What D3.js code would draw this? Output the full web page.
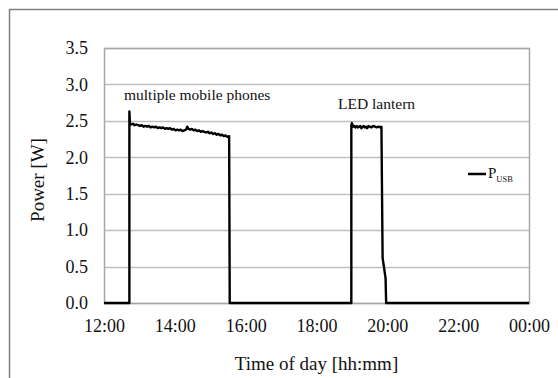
<!DOCTYPE html>
<html>
<head>
<meta charset="utf-8">
<script src="https://cdn.jsdelivr.net/npm/d3@7"></script>
<style>
  body { margin: 0; background: #fff; }
  svg text { font-family: "Liberation Serif", "DejaVu Serif", serif; fill: #111; }
</style>
</head>
<body>
<div id="chart"></div>
<script>
// Sizing
const svgWidth = 558,
  svgHeight = 378;
const plot = { left: 104, top: 48, right: 529, bottom: 303 };
const serif = "Liberation Serif, DejaVu Serif, serif";

// Content
const xTickLabels = ["12:00", "14:00", "16:00", "18:00", "20:00", "22:00", "00:00"];
const yTicks = [0, 0.5, 1.0, 1.5, 2.0, 2.5, 3.0, 3.5];
const xAxisTitle = "Time of day [hh:mm]";
const yAxisTitle = "Power [W]";
const seriesName = ["P", "USB"];

// measured P_USB, time of day and power [W]
const times = [
  "12:00", "12:43", "12:43", "12:44", "12:46", "12:49", "12:52", "12:55", "12:58",
  "13:01", "13:04", "13:07", "13:10", "13:13", "13:16", "13:19", "13:22", "13:25",
  "13:28", "13:31", "13:34", "13:37", "13:40", "13:43", "13:46", "13:49", "13:52",
  "13:55", "13:58", "14:01", "14:04", "14:07", "14:10", "14:13", "14:16", "14:19",
  "14:21", "14:23", "14:26", "14:29", "14:32", "14:35", "14:38", "14:41", "14:44",
  "14:47", "14:50", "14:53", "14:56", "14:59", "15:02", "15:05", "15:08", "15:11",
  "15:14", "15:17", "15:20", "15:23", "15:26", "15:29", "15:32", "15:33",
  "18:59", "18:59", "19:00", "19:02", "19:04", "19:06", "19:08", "19:10", "19:12",
  "19:14", "19:16", "19:18", "19:20", "19:22", "19:24", "19:26", "19:28", "19:30",
  "19:33", "19:36", "19:39", "19:42", "19:45", "19:48", "19:50", "19:52", "19:57",
  "19:58", "00:00"
];
const power = [
  0, 0, 2.63, 2.46, 2.45, 2.46, 2.44, 2.45, 2.44,
  2.43, 2.44, 2.42, 2.43, 2.42, 2.43, 2.41, 2.42, 2.41,
  2.42, 2.40, 2.41, 2.40, 2.41, 2.39, 2.40, 2.39, 2.40,
  2.38, 2.39, 2.37, 2.38, 2.37, 2.38, 2.36, 2.37, 2.38,
  2.42, 2.39, 2.38, 2.39, 2.37, 2.38, 2.36, 2.37, 2.35,
  2.36, 2.35, 2.34, 2.35, 2.33, 2.34, 2.32, 2.33, 2.31,
  2.32, 2.30, 2.31, 2.29, 2.30, 2.28, 2.29, 0,
  0, 2.44, 2.47, 2.42, 2.43, 2.41, 2.43, 2.41, 2.42,
  2.43, 2.40, 2.42, 2.43, 2.41, 2.42, 2.40, 2.43, 2.42,
  2.41, 2.43, 2.42, 2.41, 2.42, 2.41, 2.42, 0.62, 0.34,
  0, 0
];

// hours after noon, midnight counts as 24
const toHours = (s) => {
  const [h, m] = s.split(":").map(Number);
  return (h < 12 ? h + 24 : h) + m / 60;
};
const data = times.map((t, i) => ({ t: toHours(t), p: power[i] }));

/** Create SVG */
const svg = d3.select("#chart")
  .append("svg")
  .attr("width", svgWidth)
  .attr("height", svgHeight)
  .attr("font-family", serif);

// outer frame
svg.append("rect")
  .attr("x", 9.5).attr("y", 9.5)
  .attr("width", 600).attr("height", 400)
  .attr("fill", "none")
  .attr("stroke", "#7f7f7f")
  .attr("stroke-width", 1.5);

/** Scales */
const x = d3.scaleLinear()
  .domain([12, 24])
  .range([plot.left, plot.right]);
const y = d3.scaleLinear()
  .domain([0, 3.5])
  .range([plot.bottom, plot.top]);

/** Gridlines */
svg.append("g")
  .selectAll("line")
  .data(yTicks)
  .enter().append("line")
  .attr("x1", plot.left).attr("x2", plot.right)
  .attr("y1", (d) => Math.round(y(d)) + 0.5)
  .attr("y2", (d) => Math.round(y(d)) + 0.5)
  .attr("stroke", "#bfbfbf")
  .attr("stroke-width", 1.5);

// plot border
svg.append("rect")
  .attr("x", plot.left + 0.5).attr("y", plot.top + 0.5)
  .attr("width", plot.right - plot.left).attr("height", plot.bottom - plot.top)
  .attr("fill", "none")
  .attr("stroke", "#a6a6a6")
  .attr("stroke-width", 1.5);

/** Y-Axis labels */
const yAxis = svg.append("g")
  .attr("transform", "translate(" + plot.left + ",0)")
  .call(d3.axisLeft(y).tickValues(yTicks).tickFormat(d3.format(".1f")).tickSize(0).tickPadding(16))
  .attr("font-family", serif)
  .attr("font-size", 18);
yAxis.select(".domain").remove();
yAxis.selectAll("text").attr("fill", "#111");

/** X-Axis labels */
const xAxis = svg.append("g")
  .attr("transform", "translate(0," + plot.bottom + ")")
  .call(d3.axisBottom(x).tickValues(d3.range(12, 25, 2)).tickFormat((d, i) => xTickLabels[i]).tickSize(0).tickPadding(16))
  .attr("font-family", serif)
  .attr("font-size", 18);
xAxis.select(".domain").remove();
xAxis.selectAll("text").attr("fill", "#111");

// axis titles
svg.append("text")
  .attr("x", (plot.left + plot.right) / 2)
  .attr("y", 370)
  .attr("text-anchor", "middle")
  .style("font-size", "19px")
  .text(xAxisTitle);

svg.append("text")
  .attr("transform", "translate(44,180) rotate(-90)")
  .attr("text-anchor", "middle")
  .style("font-size", "19px")
  .text(yAxisTitle);

/** Line */
const line = d3.line()
  .x((d) => x(d.t))
  .y((d) => y(d.p));

svg.append("path")
  .datum(data)
  .attr("d", line)
  .attr("fill", "none")
  .attr("stroke", "#000")
  .attr("stroke-width", 2.4)
  .attr("stroke-linejoin", "round");

// annotations
svg.append("text")
  .attr("x", 124).attr("y", 100)
  .style("font-size", "15.5px")
  .text("multiple mobile phones");

svg.append("text")
  .attr("x", 338).attr("y", 109)
  .style("font-size", "15.5px")
  .text("LED lantern");

/** Legend */
const legend = svg.append("g").attr("transform", "translate(468,174)");
legend.append("line")
  .attr("x1", 0).attr("x2", 18)
  .attr("stroke", "#000")
  .attr("stroke-width", 2.5);
const lt = legend.append("text")
  .attr("x", 20).attr("y", 4)
  .style("font-size", "15px");
lt.append("tspan").text(seriesName[0]);
lt.append("tspan")
  .attr("dy", 4)
  .style("font-size", "8.5px")
  .text(seriesName[1]);
</script>
</body>
</html>
